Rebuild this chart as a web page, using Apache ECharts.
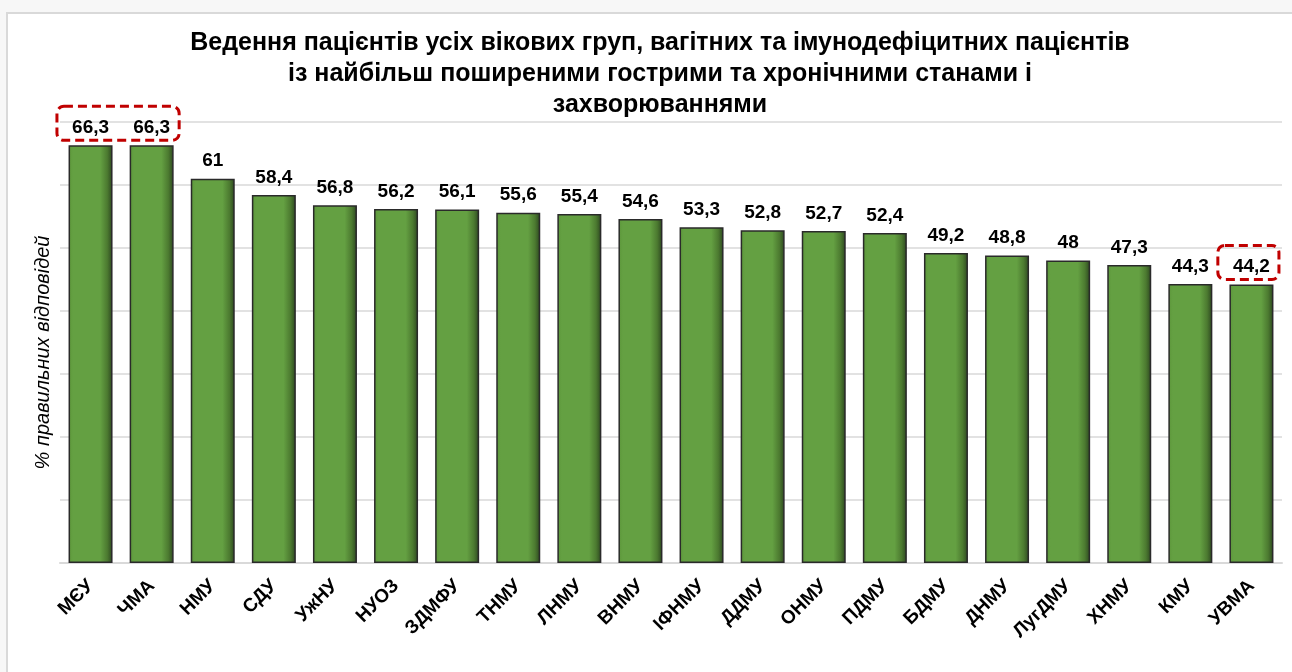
<!DOCTYPE html>
<html><head><meta charset="utf-8">
<script src="https://cdn.jsdelivr.net/npm/echarts@6/dist/echarts.min.js"></script>
<style>html,body{margin:0;padding:0;background:#f7f7f7;}#c{width:1292px;height:672px;}</style>
</head><body><div id="c"></div>
<script>
const categories = ['МЄУ','ЧМА','НМУ','СДУ','УжНУ','НУОЗ','ЗДМФУ','ТНМУ','ЛНМУ','ВНМУ','ІФНМУ','ДДМУ','ОНМУ','ПДМУ','БДМУ','ДНМУ','ЛугДМУ','ХНМУ','КМУ','УВМА'];
const values = [66.3,66.3,61,58.4,56.8,56.2,56.1,55.6,55.4,54.6,53.3,52.8,52.7,52.4,49.2,48.8,48,47.3,44.3,44.2];
const highlightGroups = [[0,1],[19,19]];
const titleText = 'Ведення пацієнтів усіх вікових груп, вагітних та імунодефіцитних пацієнтів\nіз найбільш поширеними гострими та хронічними станами і\nзахворюваннями';
const yName = '% правильних відповідей';

const chart = echarts.init(document.getElementById('c'), null, {renderer:'canvas'});
const fmt = v => String(v).replace('.', ',');
const option = {
  backgroundColor: 'transparent',
  animation: false,
  title: {
    text: titleText, left: 655, top: 23, textAlign: 'center',
    textStyle: {fontFamily:'Liberation Sans', fontWeight:'bold', fontSize:25, lineHeight:31, color:'#000'}
  },
  grid: {left: 60, right: 10, top: 122, bottom: 109},
  xAxis: {
    type: 'category', data: categories,
    axisLine: {lineStyle:{color:'#d9d9d9', width:2}},
    axisTick: {show:false},
    axisLabel: {rotate:45, interval:0, margin:20, color:'#000', fontFamily:'Liberation Sans', fontWeight:'bold', fontSize:19}
  },
  yAxis: {
    type: 'value', min: 0, max: 70, interval: 10,
    name: yName, nameLocation: 'middle', nameGap: 7, nameRotate: 90,
    nameTextStyle: {fontFamily:'Liberation Sans', fontStyle:'italic', fontSize:20, color:'#000', padding:[0,20,0,0]},
    axisLabel: {show:false}, axisLine:{show:false}, axisTick:{show:false},
    splitLine: {lineStyle:{color:'#d9d9d9', width:1.5}}
  },
  series: [{
    type: 'bar', data: values, barWidth: '72%',
    itemStyle: {
      color: new echarts.graphic.LinearGradient(0,0,1,0,[
        {offset:0, color:'#5c963a'},{offset:0.1, color:'#64a042'},{offset:0.72, color:'#64a042'},{offset:0.88, color:'#4c7a30'},{offset:1, color:'#2c4520'}
      ]),
      borderColor:'#2a2a2a', borderWidth:1.5
    },
    label: {show:true, position:'top', distance:8, formatter: p => fmt(p.value),
      color:'#000', fontFamily:'Liberation Sans', fontWeight:'bold', fontSize:19}
  }],
  graphic: []
};
chart.setOption(option);

const gfx = [{type:'rect', z:-10, silent:true, shape:{x:7,y:13,width:1300,height:680}, style:{fill:'#fff', stroke:'#d9d9d9', lineWidth:2}}];
const half = chart.convertToPixel({xAxisIndex:0}, categories[1]) - chart.convertToPixel({xAxisIndex:0}, categories[0]);
highlightGroups.forEach(([a,b]) => {
  const x0 = chart.convertToPixel({xAxisIndex:0}, categories[a]) - half*0.55;
  const x1 = chart.convertToPixel({xAxisIndex:0}, categories[b]) + half*0.45;
  const top = chart.convertToPixel({yAxisIndex:0}, Math.max(values[a], values[b]));
  gfx.push({type:'rect', z:100, silent:true, shape:{x:x0, y:top-39, width:x1-x0, height:34, r:7},
    style:{fill:'none', stroke:'#c00000', lineWidth:3, lineDash:[9,5]}});
});
chart.setOption({graphic: gfx});
</script></body></html>
